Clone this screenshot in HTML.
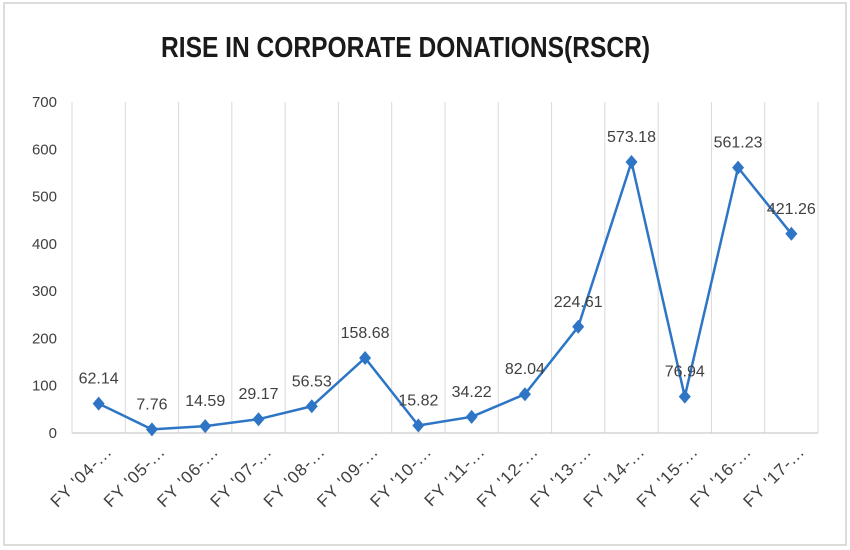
<!DOCTYPE html>
<html><head><meta charset="utf-8"><style>
html,body{margin:0;padding:0;background:#fff;}
svg{display:block;font-family:"Liberation Sans",sans-serif;}
</style></head><body>
<svg id="chart" width="850" height="550" viewBox="0 0 850 550">
<rect x="4" y="3" width="842" height="542" fill="#fff" stroke="#d0d0d0" stroke-width="1.5"/>
<text x="161" y="57" font-size="29" font-weight="bold" fill="#1a1a1a" textLength="489" lengthAdjust="spacingAndGlyphs">RISE IN CORPORATE DONATIONS(RSCR)</text>
<g id="grid"></g><g id="yaxis"></g><g id="xaxis"></g><g id="series"></g><g id="labels"></g>
</svg>
<script>
const categories=["FY '04-...","FY '05-...","FY '06-...","FY '07-...","FY '08-...","FY '09-...","FY '10-...","FY '11-...","FY '12-...","FY '13-...","FY '14-...","FY '15-...","FY '16-...","FY '17-..."];
const values=[62.14,7.76,14.59,29.17,56.53,158.68,15.82,34.22,82.04,224.61,573.18,76.94,561.23,421.26];
const valueLabels=["62.14","7.76","14.59","29.17","56.53","158.68","15.82","34.22","82.04","224.61","573.18","76.94","561.23","421.26"];
const yTicks=[0,100,200,300,400,500,600,700];
const NS="http://www.w3.org/2000/svg";
const L=72,R=818,T=102,B=433,yMax=700;
const band=(R-L)/categories.length;
const x=i=>L+band*(i+0.5);
const y=v=>B-(v/yMax)*(B-T);
function mk(tag,attrs,parent){const e=document.createElementNS(NS,tag);for(const k in attrs)e.setAttribute(k,attrs[k]);parent.appendChild(e);return e;}
const grid=document.getElementById('grid'),ya=document.getElementById('yaxis'),xa=document.getElementById('xaxis'),se=document.getElementById('series'),lb=document.getElementById('labels');
for(let i=0;i<=categories.length;i++){
  const g=mk('line',{x1:L+band*i,x2:L+band*i,y1:T,y2:B,stroke:'#d9d9d9','stroke-width':1},grid);
  
  
}
const ax=mk('line',{x1:L,x2:R,y1:B,y2:B,stroke:'#bfbfbf','stroke-width':1},grid);


yTicks.forEach(t=>{
  const e=mk('text',{x:57,y:y(t)+5,'text-anchor':'end','font-size':15,fill:'#404040'},ya);
  e.textContent=t;
  
  
});
categories.forEach((c,i)=>{
  const cx=x(i)+14,cy=B+20;
  const e=mk('text',{x:cx,y:cy,'text-anchor':'end','font-size':17,fill:'#404040','letter-spacing':1,transform:`rotate(-45 ${cx} ${cy})`},xa);
  e.textContent=c;
  
  
});
const pts=values.map((v,i)=>x(i)+','+y(v)).join(' ');
const pl=mk('polyline',{points:pts,fill:'none',stroke:'#2e75c6','stroke-width':2.5,'stroke-linejoin':'round'},se);


values.forEach((v,i)=>{
  const px=x(i),py=y(v);
  const m=mk('polygon',{points:`${px},${py-7} ${px+6},${py} ${px},${py+7} ${px-6},${py}`,fill:'#2e75c6'},se);
  
  
  const t=mk('text',{x:px,y:py-20,'text-anchor':'middle','font-size':16,fill:'#404040'},lb);
  t.textContent=valueLabels[i];
  
  
});
</script>
</body></html>
